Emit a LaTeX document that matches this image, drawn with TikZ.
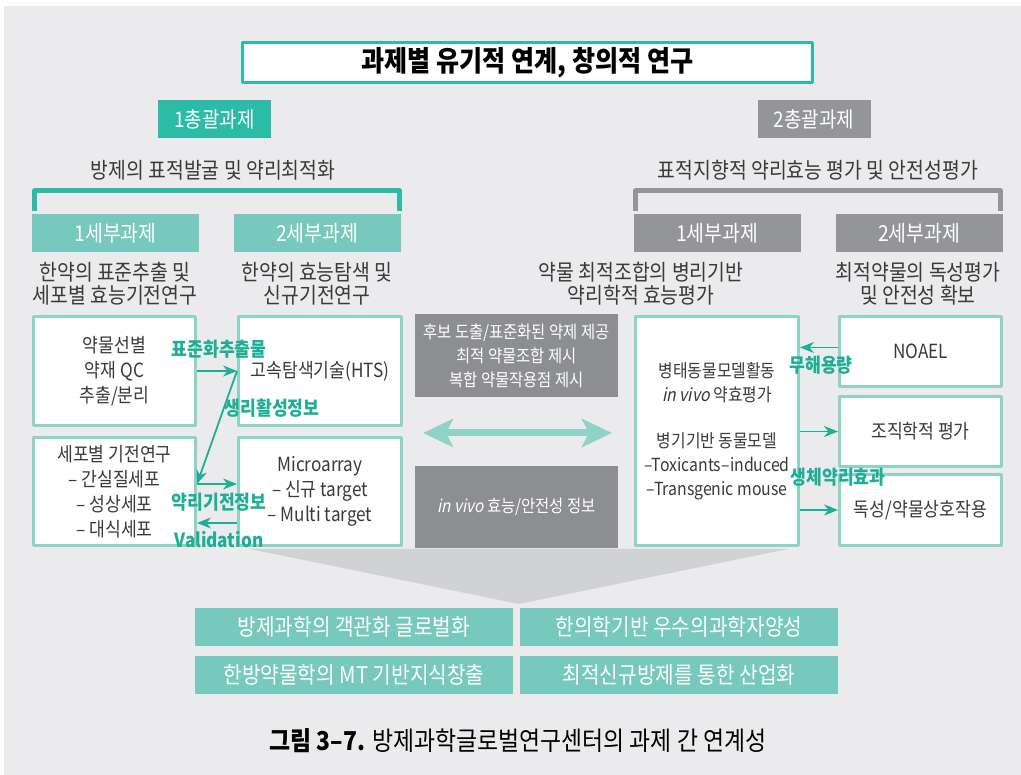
\documentclass[tikz,border=0pt]{standalone}
\usepackage{fontspec}
\setmainfont{Noto Sans CJK KR}[FakeStretch=0.88,AutoFakeSlant=0.2]
\usetikzlibrary{arrows.meta}
\definecolor{bgc}{HTML}{EBEBED}
\definecolor{teal1}{HTML}{2BBBA7}
\definecolor{lteal}{HTML}{76C9BC}
\definecolor{bordc}{HTML}{8FD3C7}
\definecolor{arrc}{HTML}{1DAF95}
\definecolor{gray1}{HTML}{939598}
\definecolor{dgray}{HTML}{8D8E91}
\definecolor{funnelc}{HTML}{D1D2D4}
\definecolor{txtc}{HTML}{3A3A3A}
\begin{document}
\begin{tikzpicture}[x=1pt,y=-1pt, line join=round, >={Stealth[length=14pt,width=11pt]},
  txt/.style={text=txtc, align=center, font=\fontsize{19.5}{25}\selectfont},
  wbox/.style={draw=bordc, line width=3pt, fill=white, minimum width=162pt, txt},
  gbox/.style={minimum width=113pt, minimum height=38pt, text=white, font=\fontsize{21.5}{24}\selectfont},
  sbox/.style={minimum width=167pt, minimum height=38pt, text=white, font=\fontsize{22}{24}\selectfont},
  head/.style={text=txtc, align=center, font=\fontsize{22}{23}\selectfont},
  cbox/.style={fill=dgray, minimum width=203pt, text=white, align=center, font=\fontsize{17.5}{24}\selectfont},
  bbox/.style={fill=lteal, minimum width=318pt, minimum height=38pt, text=white, font=\fontsize{23}{26}\selectfont},
  conn/.style={->, draw=arrc, line width=1.8pt},
  lab/.style={text=arrc, font=\bfseries\fontsize{19.5}{22}\selectfont}]
\useasboundingbox (0,0) rectangle (1021,775);
\fill[bgc] (4,6) rectangle (1021,775);
% title and groups
\node[draw=teal1, line width=3pt, fill=white, minimum width=570pt, minimum height=40pt,
  font=\bfseries\fontsize{28.5}{30}\selectfont] (title) at (527.5,62.5) {과제별 유기적 연계, 창의적 연구};
\node[gbox, fill=teal1] (g1) at (214.5,119) {1총괄과제};
\node[gbox, fill=gray1] (g2) at (814,119) {2총괄과제};
\node[head] (h1) at (213,170) {방제의 표적발굴 및 약리최적화};
\node[head] (h2) at (818,170) {표적지향적 약리효능 평가 및 안전성평가};
\draw[teal1, line width=5pt] (34.5,211) -- (34.5,190.5) -- (399.5,190.5) -- (399.5,211);
\draw[gray1, line width=5pt] (635.5,211) -- (635.5,190.5) -- (1000.5,190.5) -- (1000.5,211);
\node[sbox, fill=lteal] (s1) at (115.5,233) {1세부과제};
\node[sbox, fill=lteal] (s2) at (317,233) {2세부과제};
\node[sbox, fill=gray1] (s3) at (717,233) {1세부과제};
\node[sbox, fill=gray1] (s4) at (919,233) {2세부과제};
\node[head] (d1) at (115,284) {한약의 표준추출 및\\세포별 효능기전연구};
\node[head] (d2) at (317,284) {한약의 효능탐색 및\\신규기전연구};
\node[head] (d3) at (641,284) {약물 최적조합의 병리기반\\약리학적 효능평가};
\node[head] (d4) at (918,284) {최적약물의 독성평가\\및 안전성 확보};
% boxes
\node[wbox, minimum height=109pt] (la) at (114.5,371) {약물선별\\약재 QC\\추출/분리};
\node[wbox, minimum height=108pt] (lb) at (114.5,491.5) {세포별 기전연구\\– 간실질세포\\– 성상세포\\– 대식세포};
\node[wbox, minimum width=163pt, minimum height=109pt] (ma) at (320,371) {고속탐색기술(HTS)};
\node[wbox, minimum width=163pt, minimum height=108pt] (mb) at (320,491.5) {Microarray\\– 신규 target\\– Multi target};
\node[cbox, minimum height=83pt] (ca) at (516.5,355.5) {후보 도출/표준화된 약제 제공\\최적 약물조합 제시\\복합 약물작용점 제시};
\node[cbox, minimum height=82pt] (cb) at (516.5,507) {\textit{in vivo} 효능/안전성 정보};
\node[wbox, minimum width=163pt, minimum height=229pt, font=\fontsize{18}{24}\selectfont] (r1) at (717,431)
  {병태동물모델활동\\\textit{in vivo} 약효평가\\[22pt]병기기반 동물모델\\–Toxicants–induced\\–Transgenic mouse};
\node[wbox, minimum height=70pt] (ra) at (920.5,351.5) {NOAEL};
\node[wbox, minimum height=70pt] (rb) at (920.5,431.5) {조직학적 평가};
\node[wbox, minimum height=71pt] (rc) at (920.5,510) {독성/약물상호작용};
% connectors
\draw[conn] (la) -- (ma);
\draw[conn] (ma.west) -- ([yshift=7.5pt]lb.east);
\draw[conn] ([yshift=7.5pt]lb.east) -- ([yshift=7.5pt]mb.west);
\draw[conn] ([yshift=-31.5pt]mb.west) -- ([yshift=-31.5pt]lb.east);
\node[lab] (l1) at (219,349) {표준화추출물};
\node[lab] (l2) at (272,408) {생리활성정보};
\node[lab] (l3) at (219,502) {약리기전정보};
\node[lab] (l4) at (219,540) {Validation};
\draw[conn] ([yshift=4pt]ra.west) -- ([yshift=4pt]ra.west -| r1.east);
\draw[conn] (r1.east |- rb.west) -- (rb.west);
\draw[conn] (r1.east |- rc.west) -- (rc.west);
\node[lab] (l5) at (821,365) {무해용량};
\node[lab] (l6) at (838,477) {생체약리효과};
\coordinate (dl) at (423,433);
\coordinate (dr) at (612,433);
\draw[bordc, line width=7pt, {Stealth[length=30pt,width=28pt,inset=7pt]}-{Stealth[length=30pt,width=28pt,inset=7pt]}] (dl) -- (dr);
% outcome
\fill[funnelc] (250,549) -- (788,549) -- (519,604) -- cycle;
\node[bbox] (o1) at (354,627) {방제과학의 객관화 글로벌화};
\node[bbox] (o2) at (679,627) {한의학기반 우수의과학자양성};
\node[bbox] (o3) at (354,674.5) {한방약물학의 MT 기반지식창출};
\node[bbox] (o4) at (679,674.5) {최적신규방제를 통한 산업화};
\node[text=black, font=\fontsize{26}{28}\selectfont] (cap) at (518,741) {\textbf{그림 3–7.} 방제과학글로벌연구센터의 과제 간 연계성};
\end{tikzpicture}
\end{document}
